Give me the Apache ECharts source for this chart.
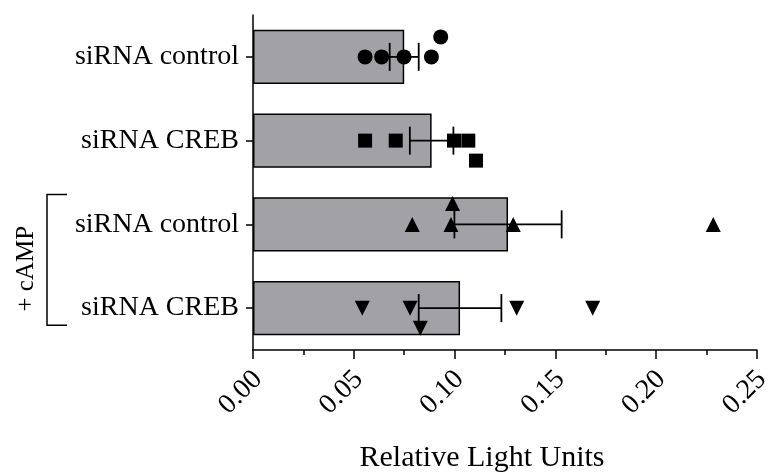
<!DOCTYPE html>
<html>
<head>
<meta charset="utf-8">
<script src="https://cdn.jsdelivr.net/npm/echarts@6/dist/echarts.min.js"></script>
<style>
html,body{margin:0;padding:0;background:#fff;}
#chart{width:769px;height:474px;}
</style>
</head>
<body>
<div id="chart"></div>
<script>
// ---- data ----
const categories = ['siRNA control', 'siRNA CREB', 'siRNA control', 'siRNA CREB'];
const barMeans = [0.0750, 0.0886, 0.1265, 0.1027];
const barSEM = [0.0072, 0.0108, 0.0266, 0.0205];
const ptsCtrl = [0.0556, 0.0638, 0.0749, 0.0885, 0.0931];
const ptsCREB = [0.0556, 0.0708, 0.0997, 0.1068, 0.1106];
const ptsCtrlCAMP = [0.0790, 0.0982, 0.0990, 0.1291, 0.2283];
const ptsCREBCAMP = [0.0542, 0.0779, 0.0830, 0.1308, 0.1685];
const xTicks = [0, 0.05, 0.10, 0.15, 0.20, 0.25];
const xTitle = 'Relative Light Units';
const groupLabel = '+ cAMP';

// vertical jitter of dots (style only, pixels)
const jitter = [
  [0, 0, 0, 0, -20],
  [0, 0, 0, 0, 20],
  [0, 0, -21, 0, 0],
  [0, 0, 20, 0, 0]
];

const FONT = 'Liberation Serif';
const chart = echarts.init(document.getElementById('chart'), null, {renderer: 'canvas'});

const allPts = [ptsCtrl, ptsCREB, ptsCtrlCAMP, ptsCREBCAMP];
const symbols = ['circle', 'rect', 'triangle', 'triangle'];
const rotates = [0, 0, 0, 180];
const sizes = [15, 14, 15, 15];

const scatterSeries = allPts.map((pts, gi) => ({
  type: 'scatter',
  z: 5,
  symbol: symbols[gi],
  symbolRotate: rotates[gi],
  symbolSize: sizes[gi],
  itemStyle: {color: '#000', opacity: 1},
  silent: true,
  data: pts.map((v, i) => ({value: [v, gi], symbolOffset: [0, jitter[gi][i]]}))
}));

const option = {
  animation: false,
  backgroundColor: '#fff',
  grid: {left: 253, right: 12, top: 15, bottom: 124, containLabel: false, outerBoundsMode: 'none'},
  xAxis: {
    type: 'value',
    min: xTicks[0],
    max: xTicks[xTicks.length - 1],
    interval: 0.05,
    name: xTitle,
    nameLocation: 'middle',
    nameGap: 93,
    nameTextStyle: {fontFamily: FONT, fontSize: 30, color: '#000', padding: [0, 46, 0, 0]},
    axisLine: {show: true, lineStyle: {color: '#000', width: 1.5}},
    axisTick: {show: true, length: 9, lineStyle: {color: '#000', width: 1.5}},
    minorTick: {show: true, splitNumber: 2, length: 5, lineStyle: {color: '#000', width: 1.5}},
    splitLine: {show: false},
    axisLabel: {
      rotate: 45,
      margin: 30,
      padding: [0, -7, 0, 0],
      fontFamily: FONT,
      fontSize: 28,
      color: '#000',
      formatter: v => v.toFixed(2)
    }
  },
  yAxis: {
    type: 'category',
    data: categories,
    inverse: true,
    axisLine: {show: true, lineStyle: {color: '#000', width: 1.5}},
    axisTick: {show: true, alignWithLabel: true, length: 7, lineStyle: {color: '#000', width: 1.5}},
    axisLabel: {fontFamily: FONT, fontSize: 28, color: '#000', margin: 14}
  },
  series: [
    {
      type: 'bar',
      barCategoryGap: '35%',
      data: barMeans.map((v, i) => [v, i]),
      itemStyle: {color: '#a2a1a5', borderColor: '#000', borderWidth: 1.5},
      silent: true,
      z: 2
    },
    {
      type: 'custom',
      z: 4,
      silent: true,
      data: barMeans.map((m, i) => [m, barSEM[i], i]),
      renderItem: function (params, api) {
        const m = api.value(0), s = api.value(1), c = api.value(2);
        const lo = api.coord([m - s, c]);
        const hi = api.coord([m + s, c]);
        const h = 14;
        const style = {stroke: '#000', lineWidth: 1.8, fill: null};
        return {
          type: 'group',
          children: [
            {type: 'line', shape: {x1: lo[0], y1: lo[1], x2: hi[0], y2: hi[1]}, style},
            {type: 'line', shape: {x1: lo[0], y1: lo[1] - h, x2: lo[0], y2: lo[1] + h}, style},
            {type: 'line', shape: {x1: hi[0], y1: hi[1] - h, x2: hi[0], y2: hi[1] + h}, style}
          ]
        };
      }
    }
  ].concat(scatterSeries)
};

chart.setOption(option);

// bracket annotation for "+ cAMP" groups
const yTop = chart.convertToPixel({yAxisIndex: 0}, 2) - 30;
const yBot = chart.convertToPixel({yAxisIndex: 0}, 3) + 17;
const bx = 47, bx2 = 67;
chart.setOption({
  graphic: [
    {
      type: 'polyline',
      shape: {points: [[bx2, yTop], [bx, yTop], [bx, yBot], [bx2, yBot]]},
      style: {stroke: '#000', lineWidth: 1.5, fill: null}
    },
    {
      type: 'text',
      x: 26,
      y: (yTop + yBot) / 2 + 9,
      rotation: Math.PI / 2,
      style: {
        text: groupLabel,
        fontFamily: FONT,
        fontSize: 25,
        fill: '#000',
        align: 'center',
        verticalAlign: 'middle'
      }
    }
  ]
});
</script>
</body>
</html>
